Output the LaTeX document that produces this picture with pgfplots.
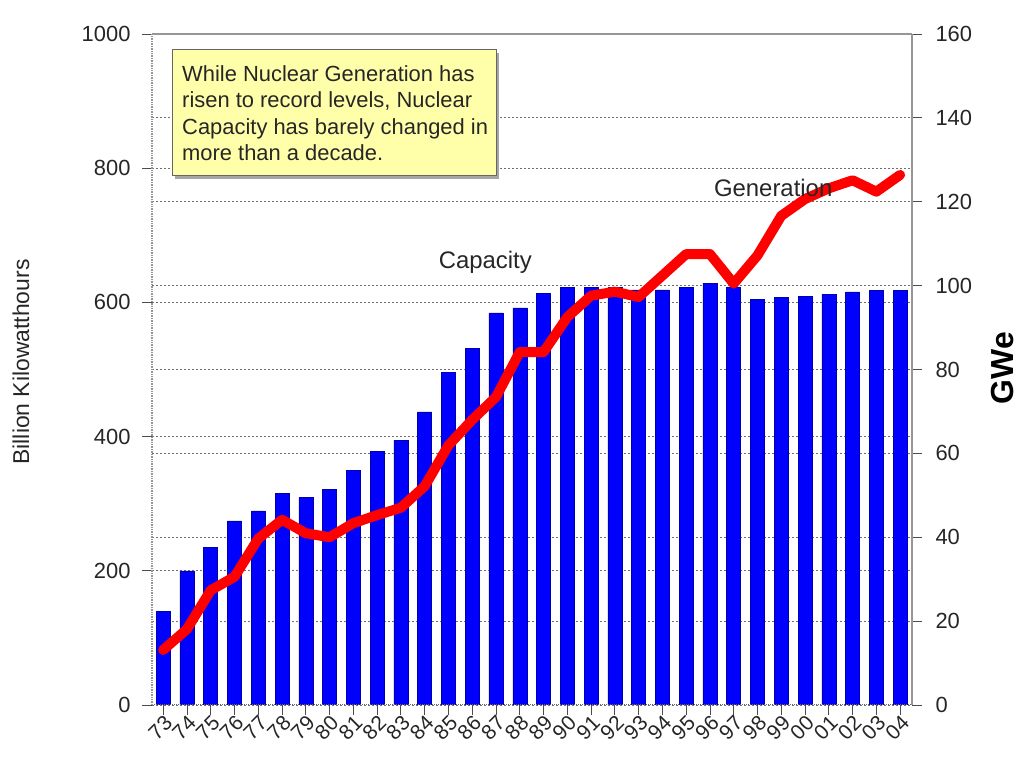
\documentclass[border=0pt]{standalone}
\usepackage{pgfplots}
\pgfplotsset{compat=1.18}
\usepackage{fontspec}
\setmainfont{Liberation Sans}
\definecolor{boxyellow}{RGB}{255,255,170}
\definecolor{axgray}{RGB}{150,150,150}
\definecolor{gridgray}{RGB}{110,110,110}
\begin{document}
\begin{tikzpicture}
\useasboundingbox (0bp,0bp) rectangle (1024bp,766bp);
% capacity bars (right axis, GWe)
\begin{axis}[
  at={(152bp,61bp)}, anchor=south west, scale only axis,
  width=760bp, height=671bp,
  xmin=-0.47, xmax=31.5, ymin=0, ymax=160,
  axis x line*=top, axis y line*=right,
  axis line style={-, axgray, line width=1.5bp},
  xtick=\empty,
  ytick={0,20,...,160},
  tick align=outside, major tick length=10bp,
  tick style={black!70, line width=0.8bp},
  ymajorgrids,
  grid style={gridgray, line width=0.8bp, dash pattern=on 2bp off 2bp},
  extra y ticks={32,64,96,128}, extra y tick labels={},
  extra y tick style={grid=major, major tick length=0pt},
  /pgf/number format/assume math mode=true,
  yticklabel style={font=\fontsize{22}{26}\selectfont, text=black!85, xshift=10bp},
]
\addplot[ybar, bar width=14bp, fill=blue, draw=blue!70!black, line width=0.5bp] table {
x y
0 22.3
1 32.0
2 37.5
3 43.9
4 46.3
5 50.5
6 49.5
7 51.5
8 56.0
9 60.4
10 63.1
11 69.9
12 79.4
13 85.1
14 93.5
15 94.7
16 98.2
17 99.6
18 99.6
19 99.5
20 99.0
21 99.0
22 99.5
23 100.6
24 99.7
25 96.8
26 97.2
27 97.5
28 98.0
29 98.5
30 98.9
31 98.9
};
\end{axis}
% generation line (left axis, billion kWh)
\begin{axis}[
  at={(152bp,61bp)}, anchor=south west, scale only axis,
  width=760bp, height=671bp,
  xmin=-0.47, xmax=31.5, ymin=0, ymax=1000,
  axis x line*=bottom, axis y line*=left,
  x axis line style={-, black!60, line width=1bp, dash pattern=on 1bp off 1bp},
  y axis line style={-, axgray, line width=2bp, dash pattern=on 1bp off 0.7bp},
  xtick={0,...,31},
  xticklabels={73,74,75,76,77,78,79,80,81,82,83,84,85,86,87,88,89,90,91,92,93,94,95,96,97,98,99,00,01,02,03,04},
  ytick={0,200,...,1000},
  tick align=outside, major tick length=10bp,
  tick style={black!70, line width=0.8bp},
  /pgf/number format/assume math mode=true,
  /pgf/number format/1000 sep={},
  yticklabel style={font=\fontsize{22}{26}\selectfont, text=black!85, xshift=-8bp},
  xticklabel style={font=\fontsize{21}{24}\selectfont, text=black!85, rotate=45, anchor=east, xshift=4bp, yshift=-7bp},
]
\addplot[red, line width=10bp, line join=round, line cap=round] table {
x y
0 82
1 113
2 171
3 191
4 248
5 276
6 256
7 250
8 271
9 283
10 294
11 326
12 387
13 425
14 459
15 526
16 526
17 578
18 610
19 616
20 608
21 640
22 672
23 672
24 628
25 670
26 729
27 754
28 770
29 782
30 765
31 790
};
\node[font=\fontsize{24}{28}\selectfont, text=black!85] at (axis cs:13.55,659) {Capacity};
\node[font=\fontsize{24}{28}\selectfont, text=black!85] at (axis cs:25.66,770) {Generation};
\end{axis}
% annotation box
\fill[black!35] (175bp,587bp) rectangle (499bp,713bp);
\filldraw[fill=boxyellow, draw=black!60, line width=1bp] (172bp,590bp) rectangle (496bp,716bp);
\node[anchor=north west, inner sep=0pt, align=left, text=black!85,
      font=\fontsize{22}{26.7}\selectfont] at (182bp,701bp)
  {While Nuclear Generation has\\risen to record levels, Nuclear\\Capacity has barely changed in\\more than a decade.};
% axis titles
\node[font=\fontsize{23}{27}\selectfont, rotate=90, text=black!85] at (21bp,404bp) {Billion Kilowatthours};
\node[font=\bfseries\fontsize{32}{36}\selectfont, rotate=90] at (1003bp,398bp) {GWe};
\end{tikzpicture}
\end{document}
